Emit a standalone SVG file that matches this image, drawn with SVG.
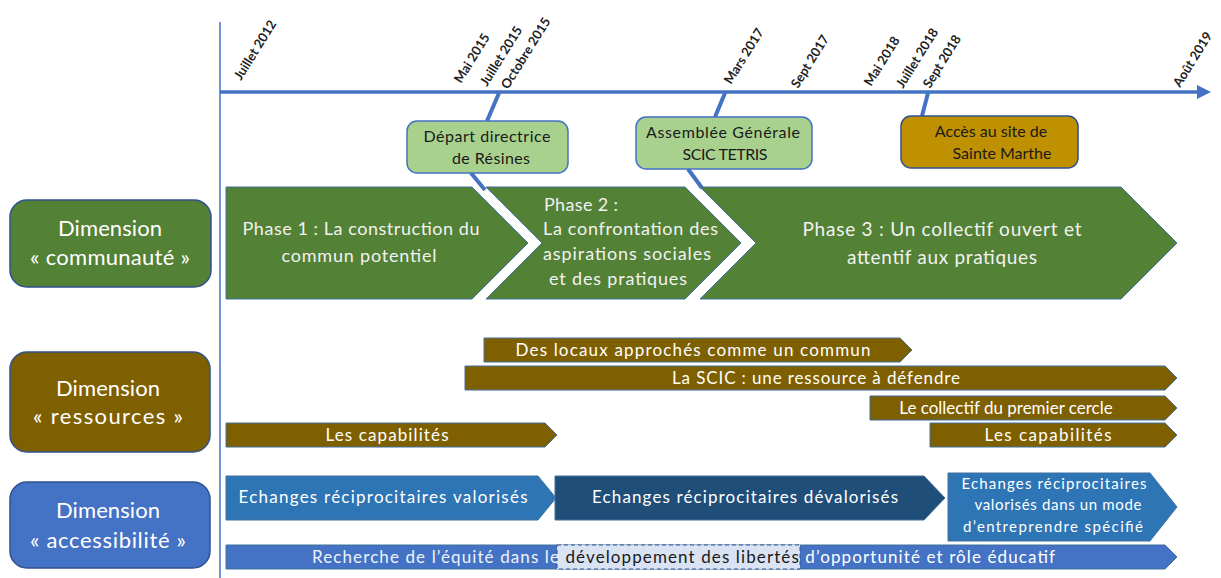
<svg xmlns="http://www.w3.org/2000/svg" width="1221" height="578" viewBox="0 0 1221 578">
<defs>
<style>
text{font-family:Lato,"Liberation Sans",sans-serif}
.dim{fill:#ffffff;font-size:22px;text-anchor:middle}
.ph{fill:#f2f2f2;font-size:18px}
.bar{fill:#ffffff;font-size:17px}
.ev{fill:#1a1a1a;font-size:16px;text-anchor:middle}
.tl{fill:#222;font-size:13px;font-weight:bold}
.conn{stroke:#4472C4;stroke-width:4;fill:none}
.grn{fill:#538135;stroke:#41719C;stroke-width:1}
.brn{fill:#7F6000;stroke:#41719C;stroke-width:1}
</style>
<marker id="ah" markerWidth="4" markerHeight="4" refX="2" refY="2" orient="auto" markerUnits="strokeWidth">
<path d="M0,0 L4,2 L0,4 z" fill="#4472C4"/>
</marker>
</defs>
<rect width="1221" height="578" fill="#ffffff"/>

<g id="axes">
<line x1="220" y1="22" x2="220" y2="578" stroke="#4472C4" stroke-width="1.5"/>
<line x1="220" y1="92" x2="1204" y2="92" stroke="#4472C4" stroke-width="3.5" marker-end="url(#ah)"/>
</g>

<g id="timeline-labels">
<text class="tl" transform="translate(241,81) rotate(-58)">Juillet  2012</text>
<text class="tl" transform="translate(461,84) rotate(-58)">Mai 2015</text>
<text class="tl" transform="translate(487,87) rotate(-58)">Juillet  2015</text>
<text class="tl" transform="translate(508,90) rotate(-58)">Octobre 2015</text>
<text class="tl" transform="translate(731,85) rotate(-58)">Mars  2017</text>
<text class="tl" transform="translate(798,89) rotate(-58)">Sept 2017</text>
<text class="tl" transform="translate(871,87) rotate(-58)">Mai 2018</text>
<text class="tl" transform="translate(903,89) rotate(-58)">Juillet  2018</text>
<text class="tl" transform="translate(930,89) rotate(-58)">Sept 2018</text>
<text class="tl" transform="translate(1180,88) rotate(-58)">Août 2019</text>
</g>

<g id="connectors">
<line class="conn" x1="499" y1="93" x2="487" y2="121"/>
<line class="conn" x1="471" y1="173" x2="485" y2="190"/>
<line class="conn" x1="725" y1="93" x2="715" y2="117"/>
<line class="conn" x1="688" y1="169" x2="702" y2="188"/>
<line class="conn" x1="928" y1="93" x2="922" y2="116"/>
</g>

<g id="event-depart">
<rect x="407" y="121" width="161" height="52" rx="10" fill="#A9D18E" stroke="#4472C4" stroke-width="1.5"/>
<text class="ev" x="487" y="142" textLength="127">Départ directrice</text>
<text class="ev" x="491" y="164" textLength="78">de Résines</text>
</g>
<g id="event-ag">
<rect x="636" y="117" width="176" height="52" rx="10" fill="#A9D18E" stroke="#4472C4" stroke-width="1.5"/>
<text class="ev" x="723" y="138" textLength="154">Assemblée Générale</text>
<text class="ev" x="725" y="160" textLength="85">SCIC TETRIS</text>
</g>
<g id="event-acces">
<rect x="901" y="116" width="177" height="52" rx="10" fill="#BF9000" stroke="#2F528F" stroke-width="1.5"/>
<text class="ev" x="991" y="137">Accès au site de</text>
<text class="ev" x="1002" y="159">Sainte Marthe</text>
</g>

<g id="dim-communaute">
<rect x="10" y="200" width="201" height="87" rx="17" fill="#538135" stroke="#2F528F" stroke-width="1.5"/>
<text class="dim" x="110" y="236" textLength="104">Dimension</text>
<text class="dim" x="110" y="265" textLength="160">« communauté »</text>
</g>
<g id="dim-ressources">
<rect x="10" y="352" width="200" height="100" rx="17" fill="#7F6000" stroke="#2F528F" stroke-width="1.5"/>
<text class="dim" x="108" y="396" textLength="104">Dimension</text>
<text class="dim" x="108" y="424" textLength="150">« ressources »</text>
</g>
<g id="dim-accessibilite">
<rect x="10" y="482" width="200" height="86" rx="17" fill="#4472C4" stroke="#2F528F" stroke-width="1.5"/>
<text class="dim" x="108" y="518" textLength="104">Dimension</text>
<text class="dim" x="108" y="548" textLength="156">« accessibilité »</text>
</g>

<g id="phase1">
<polygon class="grn" points="226,187 472,187 528,243 472,299 226,299"/>
<text class="ph" x="361" y="235" text-anchor="middle" textLength="237">Phase 1 : La construction du</text>
<text class="ph" x="359" y="262" text-anchor="middle" textLength="155">commun potentiel</text>
</g>
<g id="phase2">
<polygon class="grn" points="486,187 685,187 741,243 685,299 486,299 542,243"/>
<text class="ph" x="544" y="211" textLength="74">Phase 2 :</text>
<text class="ph" x="543" y="235" textLength="175">La confrontation des</text>
<text class="ph" x="543" y="260" textLength="168">aspirations sociales</text>
<text class="ph" x="549" y="285" textLength="138">et des pratiques</text>
</g>
<g id="phase3">
<polygon class="grn" points="700,187 1121,187 1177,243 1121,299 700,299 756,243"/>
<text class="ph" x="942" y="236" text-anchor="middle" textLength="279" style="font-size:19px">Phase 3 : Un collectif ouvert et</text>
<text class="ph" x="942" y="264" text-anchor="middle" textLength="190" style="font-size:19px">attentif aux pratiques</text>
</g>

<g id="res-locaux">
<polygon class="brn" points="484,338 900,338 912,350 900,362 484,362"/>
<text class="bar" x="693" y="356" text-anchor="middle" textLength="355">Des locaux approchés comme un commun</text>
</g>
<g id="res-scic">
<polygon class="brn" points="465,366 1165,366 1177,378 1165,390 465,390"/>
<text class="bar" x="816" y="384" text-anchor="middle" textLength="288">La SCIC : une ressource à défendre</text>
</g>
<g id="res-collectif">
<polygon class="brn" points="870,396 1165,396 1177,408 1165,420 870,420"/>
<text class="bar" x="1006" y="414" text-anchor="middle">Le collectif du premier cercle</text>
</g>
<g id="res-capabilites-2">
<polygon class="brn" points="930,423 1165,423 1177,435 1165,447 930,447"/>
<text class="bar" x="1048" y="441" text-anchor="middle" textLength="127">Les capabilités</text>
</g>
<g id="res-capabilites-1">
<polygon class="brn" points="226,423 545,423 557,435 545,447 226,447"/>
<text class="bar" x="387" y="441" text-anchor="middle" textLength="123">Les capabilités</text>
</g>

<g id="acc-valorises">
<polygon points="226,476 538,476 556,498 538,520 226,520" fill="#2E75B6" stroke="#41719C" stroke-width="1"/>
<text class="bar" x="383" y="503" text-anchor="middle" textLength="289">Echanges réciprocitaires valorisés</text>
</g>
<g id="acc-devalorises">
<polygon points="555,476 924,476 945,498 924,520 555,520" fill="#1F4E79" stroke="#41719C" stroke-width="1"/>
<text class="bar" x="745" y="503" text-anchor="middle" textLength="306">Echanges réciprocitaires dévalorisés</text>
</g>
<g id="acc-mode">
<polygon points="948,473 1150,473 1177,507 1150,541 948,541" fill="#2E75B6" stroke="#41719C" stroke-width="1"/>
<text class="bar" x="1054" y="489" text-anchor="middle" textLength="185" style="font-size:15px">Echanges réciprocitaires</text>
<text class="bar" x="1058" y="510" text-anchor="middle" textLength="167" style="font-size:15px">valorisés dans un mode</text>
<text class="bar" x="1053" y="532" text-anchor="middle" textLength="180" style="font-size:15px">d’entreprendre spécifié</text>
</g>
<g id="acc-equite">
<polygon points="226,545 1165,545 1177,557 1165,569 226,569" fill="#4472C4" stroke="#41719C" stroke-width="1"/>
<rect x="557" y="545" width="243" height="24" fill="#DAE3F3" stroke="#2F528F" stroke-width="1" stroke-dasharray="4,3"/>
<text class="bar" x="312" y="563" textLength="743"><tspan fill="#eef2fa">Recherche de l’équité dans le </tspan><tspan fill="#1a1a1a">développement des libertés</tspan><tspan fill="#ffffff"> d’opportunité et rôle éducatif</tspan></text>
</g>
</svg>
